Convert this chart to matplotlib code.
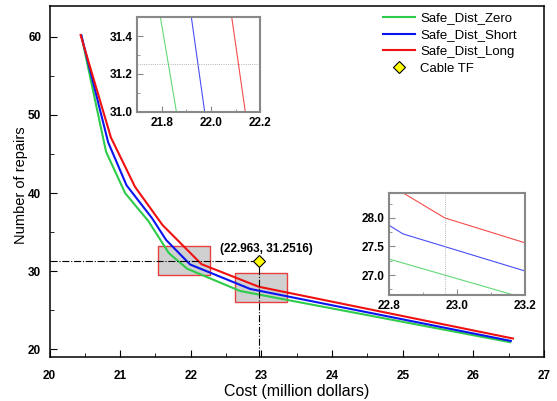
import matplotlib.pyplot as plt
from matplotlib.patches import Rectangle
from matplotlib.ticker import MultipleLocator

plt.rcParams['font.family'] = ['Liberation Sans', 'DejaVu Sans']

# curve points (cost, repairs)
zero_x = [20.45, 20.80, 21.07, 21.40, 21.69, 21.95, 22.70, 26.52]
zero_y = [60.2, 45.3, 40.0, 36.4, 32.3, 30.3, 27.45, 20.9]
short_x = [20.45, 20.83, 21.09, 21.45, 21.65, 21.99, 22.84, 26.53]
short_y = [60.2, 46.5, 41.0, 36.8, 34.0, 30.85, 27.72, 21.06]
long_x = [20.44, 20.87, 21.21, 21.60, 22.15, 22.963, 26.56]
long_y = [60.25, 47.1, 40.8, 35.9, 30.9, 28.0, 21.37]

tf_x, tf_y = 22.963, 31.2516

# highlighted boxes (x0, y0, x1, y1)
boxes = [(21.53, 29.5, 22.27, 33.2), (22.62, 26.07, 23.36, 29.8)]

green, blue, red = '#2ecc4a', '#0a14f0', '#f01010'

fig = plt.figure(figsize=(5.57, 4.01), dpi=100)
ax = fig.add_axes([0.0889, 0.1097, 0.8878, 0.8761])

ax.plot(zero_x, zero_y, color=green, lw=1.5, label='Safe_Dist_Zero')
ax.plot(short_x, short_y, color=blue, lw=1.5, label='Safe_Dist_Short')
ax.plot(long_x, long_y, color=red, lw=1.5, label='Safe_Dist_Long')

for x0, y0, x1, y1 in boxes:
    ax.add_patch(Rectangle((x0, y0), x1 - x0, y1 - y0, facecolor='#d0d0d0',
                           edgecolor='#e84040', lw=1.0, zorder=1))

ax.plot([20, tf_x], [tf_y, tf_y], color='black', ls='-.', lw=0.8, zorder=3)
ax.plot([tf_x, tf_x], [19, tf_y], color='black', ls='-.', lw=0.8, zorder=3)
ax.plot([tf_x], [tf_y], ls='none', marker='D', ms=6.5, mfc='#ffff00', mec='black',
        mew=0.8, label='Cable TF', zorder=5)
ax.text(tf_x + 0.1, tf_y + 1.6, '(22.963, 31.2516)', ha='center', va='center',
        fontsize=8.5, fontweight='bold')

ax.set_xlim(20, 27)
ax.set_ylim(19, 64)
ax.xaxis.set_major_locator(MultipleLocator(1))
ax.xaxis.set_minor_locator(MultipleLocator(0.5))
ax.yaxis.set_major_locator(MultipleLocator(10))
ax.yaxis.set_minor_locator(MultipleLocator(5))
ax.tick_params(which='both', direction='in', labelsize=8.5)
ax.tick_params(which='major', length=5)
ax.tick_params(axis='x', which='major', pad=9)
ax.tick_params(axis='y', which='major', pad=6)
ax.tick_params(which='minor', length=3)
for lab in ax.get_xticklabels() + ax.get_yticklabels():
    lab.set_fontweight('bold')
for s in ax.spines.values():
    s.set_linewidth(1.1)
ax.set_xlabel('Cost (million dollars)', fontsize=11.5, labelpad=2)
ax.set_ylabel('Number of repairs', fontsize=10.5)
ax.yaxis.set_label_coords(-0.043, 0.49)

ax.legend(loc='upper left', bbox_to_anchor=(0.688, 0.970),
          bbox_transform=fig.transFigure, frameon=False, fontsize=9.5,
          handlelength=2.4, handletextpad=0.4, labelspacing=0.35,
          borderaxespad=0, borderpad=0)


def inset(rect, xlim, ylim, xstep, ystep, vline=None, hline=None):
    ia = fig.add_axes(rect)
    ia.plot(zero_x, zero_y, color=green, lw=0.8, alpha=0.75)
    ia.plot(short_x, short_y, color=blue, lw=0.8, alpha=0.75)
    ia.plot(long_x, long_y, color=red, lw=0.8, alpha=0.75)
    if hline is not None:
        ia.axhline(hline, color='#999999', ls=':', lw=0.6)
    if vline is not None:
        ia.axvline(vline, color='#999999', ls=':', lw=0.6)
    ia.set_xlim(*xlim)
    ia.set_ylim(*ylim)
    ia.xaxis.set_major_locator(MultipleLocator(xstep))
    ia.xaxis.set_minor_locator(MultipleLocator(xstep / 2))
    ia.yaxis.set_major_locator(MultipleLocator(ystep))
    ia.yaxis.set_minor_locator(MultipleLocator(ystep / 2))
    ia.tick_params(which='both', direction='in', labelsize=8.5, color='#888888')
    ia.tick_params(which='major', length=4)
    ia.tick_params(which='minor', length=2)
    ia.xaxis.set_major_formatter('{x:.1f}')
    ia.yaxis.set_major_formatter('{x:.1f}')
    for lab in ia.get_xticklabels() + ia.get_yticklabels():
        lab.set_fontweight('bold')
    for s in ia.spines.values():
        s.set_color('#888888')
        s.set_linewidth(1.5)
    return ia


inset([0.2465, 0.7214, 0.2208, 0.2354], (21.7, 22.2), (31.0, 31.5), 0.2, 0.2,
      hline=tf_y)
inset([0.699, 0.2643, 0.2436, 0.2551], (22.8, 23.2), (26.65, 28.44), 0.2, 0.5,
      vline=tf_x)

fig.savefig('out.png', dpi=100)
